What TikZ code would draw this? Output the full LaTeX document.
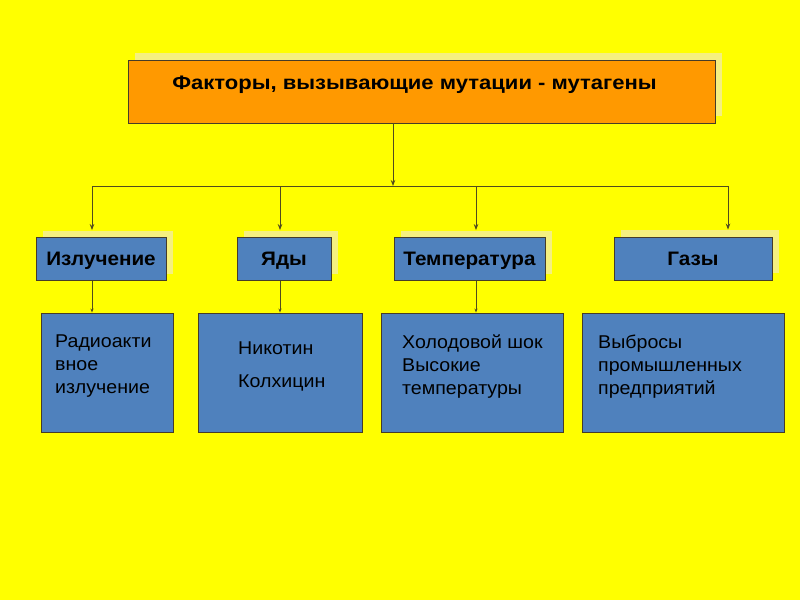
\documentclass[tikz,border=0pt]{standalone}
\usepackage{fontspec}
\setmainfont{Liberation Sans}
\newfontfamily\widesans{Liberation Sans}[FakeStretch=1.06]
\newfontfamily\titlesans{Liberation Sans}[FakeStretch=1.13]
\usetikzlibrary{shadows,arrows.meta}

\definecolor{bgyellow}{RGB}{255,255,0}
\definecolor{shadowyellow}{RGB}{245,240,128}
\definecolor{topfill}{RGB}{255,153,0}
\definecolor{boxblue}{RGB}{79,129,189}
\definecolor{linecol}{RGB}{80,75,30}
\definecolor{edgecol}{RGB}{70,60,40}

\begin{document}
\begin{tikzpicture}[
    x=1pt, y=-1pt,
    topbox/.style={rectangle, draw=edgecol, line width=0.9pt, fill=topfill, minimum width=587pt, minimum height=63pt, drop shadow={shadow xshift=7pt, shadow yshift=7pt, fill=shadowyellow, opacity=1}},
    midbox/.style={rectangle, draw=edgecol, line width=0.9pt, fill=boxblue, minimum height=43pt, inner sep=0pt, text depth=0pt, font=\widesans\bfseries\fontsize{19.5}{22}\selectfont, drop shadow={shadow xshift=7pt, shadow yshift=7pt, fill=shadowyellow, opacity=1}},
    lowbox/.style={rectangle, draw=edgecol, line width=0.9pt, fill=boxblue, minimum height=119pt},
    lowtext/.style={anchor=north west, inner sep=0pt, align=left, font=\widesans\fontsize{18.5}{23}\selectfont},
    arrow/.style={-{Stealth[length=6pt,width=4.5pt]}, draw=linecol, line width=0.8pt},
    smallarrow/.style={-{Stealth[length=4pt,width=3pt]}, draw=linecol, line width=0.8pt},
    link/.style={draw=linecol, line width=0.8pt}
]
    \useasboundingbox[fill=bgyellow] (0,0) rectangle (800,600);

    % Components
    \node[topbox, label={[font=\titlesans\bfseries\fontsize{19.5}{22}\selectfont, xshift=-7pt, yshift=7pt]center:{Факторы, вызывающие мутации - мутагены}}] (factors) at (421.5,91.5) {};

    \node[midbox, minimum width=130pt] (izl) at (101,259) {Излучение};
    \node[midbox, minimum width=94pt] (yady) at (284,259) {Яды};
    \node[midbox, minimum width=151pt] (temp) at (469.5,259) {Температура};
    \node[midbox, minimum width=158pt] (gazy) at (693,258.5) {Газы};

    \node[lowbox, minimum width=132pt] (rad) at (107,372.5) {};
    \node[lowbox, minimum width=164pt] (nik) at (280,372.5) {};
    \node[lowbox, minimum width=182pt] (hol) at (472,372.5) {};
    \node[lowbox, minimum width=202pt] (vyb) at (683.5,372.5) {};

    \node[lowtext] (radtext) at (55,335) {Радиоакти\\вное\\излучение};
    \node[lowtext] (niktext) at (238,342) {Никотин\\[10pt]Колхицин};
    \node[lowtext] (holtext) at (402,335) {Холодовой шок\\Высокие\\температуры};
    \node[lowtext] (vybtext) at (598,335) {Выбросы\\промышленных\\предприятий};

    % Branch points
    \coordinate (hub) at (393,186);
    \coordinate (b-izl) at (92,186);
    \coordinate (b-yady) at (280,186);
    \coordinate (b-temp) at (476,186);
    \coordinate (b-gazy) at (728,186);

    % Flow arrows
    \draw[arrow] (factors.south -| hub) -- (hub);
    \draw[link] (b-izl) -- (b-gazy);
    \draw[arrow, shorten >=7pt] (b-izl) -- (b-izl |- izl.north);
    \draw[arrow, shorten >=7pt] (b-yady) -- (b-yady |- yady.north);
    \draw[arrow, shorten >=7pt] (b-temp) -- (b-temp |- temp.north);
    \draw[arrow, shorten >=7pt] (b-gazy) -- (b-gazy |- gazy.north);

    \draw[smallarrow] (izl.south -| b-izl) -- (rad.north -| b-izl);
    \draw[smallarrow] (yady.south -| b-yady) -- (nik.north -| b-yady);
    \draw[smallarrow] (temp.south -| b-temp) -- (hol.north -| b-temp);
\end{tikzpicture}
\end{document}
